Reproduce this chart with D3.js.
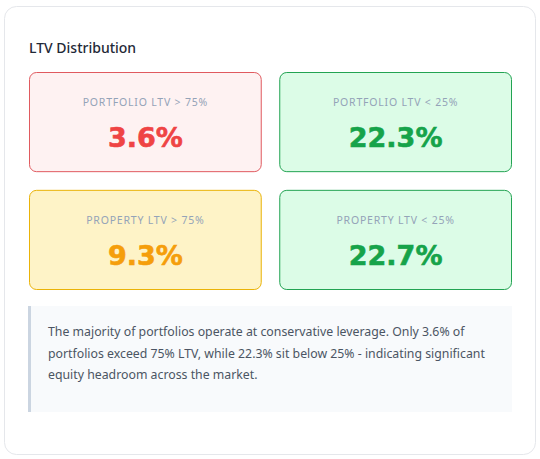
<!DOCTYPE html>
<html><head><meta charset="utf-8">
<script src="https://cdn.jsdelivr.net/npm/d3@7"></script>
<style>body{margin:0;background:#fff}</style></head>
<body><svg id="c" width="540" height="459"></svg>
<script>
// metric cards
const labels = ['PORTFOLIO LTV > 75%', 'PORTFOLIO LTV < 25%', 'PROPERTY LTV > 75%', 'PROPERTY LTV < 25%'];
const values = [3.6, 22.3, 9.3, 22.7];
const tones = ['red', 'green', 'amber', 'green'];
const noteLines = [
  'The majority of portfolios operate at conservative leverage. Only 3.6% of',
  'portfolios exceed 75% LTV, while 22.3% sit below 25% - indicating significant',
  'equity headroom across the market.'
];

const palette = {
  red: { bg: '#fef2f2', border: '#e05a5f', text: '#ef4444' },
  green: { bg: '#dcfce7', border: '#22a352', text: '#16a34a' },
  amber: { bg: '#fef3c7', border: '#eab308', text: '#f59e0b' }
};

const svg = d3.select('#c');
const font = '"Noto Sans", "Open Sans", sans-serif';

svg.append('rect').attr('x', 4.5).attr('y', 6.5).attr('width', 531).attr('height', 448)
  .attr('rx', 12).attr('fill', '#fff').attr('stroke', '#e5e7eb');

svg.append('text').attr('x', 29).attr('y', 53).text('LTV Distribution')
  .attr('font-family', font).attr('font-size', 14).attr('font-weight', 500).attr('fill', '#1f2937');

const col = d3.scaleBand().domain([0, 1]).range([29, 512]).paddingInner(0.07);
const row = d3.scaleBand().domain([0, 1]).range([72, 290]).paddingInner(0.15);

const cards = svg.selectAll('g.card').data(values).enter().append('g')
  .attr('class', 'card')
  .attr('transform', (d, i) => `translate(${col(i % 2)},${row(Math.floor(i / 2))})`);

cards.append('rect').attr('x', 0.5).attr('y', 0.5)
  .attr('width', col.bandwidth() - 1).attr('height', row.bandwidth() - 1).attr('rx', 7)
  .attr('fill', (d, i) => palette[tones[i]].bg).attr('stroke', (d, i) => palette[tones[i]].border);

cards.append('text').attr('x', col.bandwidth() / 2).attr('y', 34).attr('text-anchor', 'middle')
  .attr('font-family', font).attr('font-size', 10.5).attr('letter-spacing', 0.8)
  .attr('fill', '#94a3b8').text((d, i) => labels[i]);

cards.append('text').attr('x', col.bandwidth() / 2).attr('y', 75).attr('text-anchor', 'middle')
  .attr('font-family', '"DejaVu Sans", sans-serif').attr('font-weight', 'bold').attr('font-size', 27)
  .attr('stroke', (d, i) => palette[tones[i]].text).attr('stroke-width', 0.6)
  .attr('fill', (d, i) => palette[tones[i]].text).text(d => d.toFixed(1) + '%');

// note box
svg.append('rect').attr('x', 28).attr('y', 306).attr('width', 484).attr('height', 106).attr('fill', '#f8fafc');
svg.append('rect').attr('x', 28).attr('y', 306).attr('width', 3).attr('height', 106).attr('fill', '#cbd5e1');
svg.append('g').selectAll('text').data(noteLines).enter().append('text')
  .attr('x', 48).attr('y', (d, i) => 336 + i * 21.5)
  .attr('font-family', font).attr('font-size', 12.3).attr('fill', '#4b5563').text(d => d);
</script></body></html>
